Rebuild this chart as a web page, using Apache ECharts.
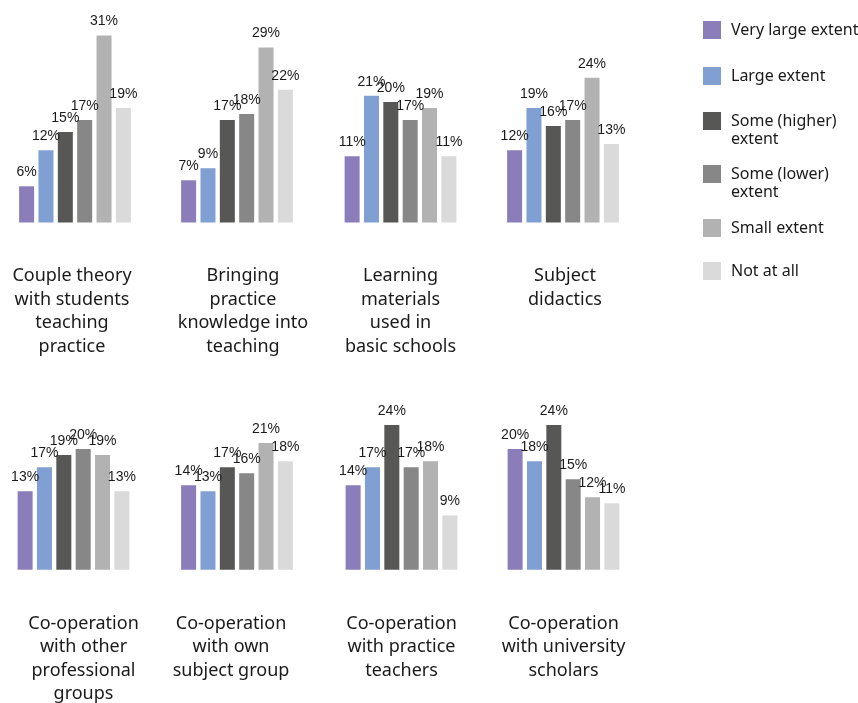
<!DOCTYPE html>
<html>
<head>
<meta charset="utf-8">
<script src="https://cdn.jsdelivr.net/npm/echarts@6/dist/echarts.min.js"></script>
<style>
  html, body { margin: 0; padding: 0; background: #fff; }
  #chart { width: 858px; height: 703px; }
</style>
</head>
<body>
<div id="chart"></div>
<script>
// Panel titles (one small bar chart each), row by row
const panelNames = [
  'Couple theory\nwith students\nteaching\npractice',
  'Bringing\npractice\nknowledge into\nteaching',
  'Learning\nmaterials\nused in\nbasic schools',
  'Subject\ndidactics',
  'Co-operation\nwith other\nprofessional\ngroups',
  'Co-operation\nwith own\nsubject group',
  'Co-operation\nwith practice\nteachers',
  'Co-operation\nwith university\nscholars'
];

// Response levels
const seriesNames = ['Very large extent', 'Large extent', 'Some (higher) extent', 'Some (lower) extent', 'Small extent', 'Not at all'];
const legendText = ['Very large extent', 'Large extent', 'Some (higher)\nextent', 'Some (lower)\nextent', 'Small extent', 'Not at all'];
const colors = ['#8a7db9', '#809fd3', '#575756', '#878787', '#b2b2b2', '#dadada'];

// Share (%) per level, in panel order
const veryLarge   = [6, 7, 11, 12, 13, 14, 14, 20];
const large       = [12, 9, 21, 19, 17, 13, 17, 18];
const someHigher  = [15, 17, 20, 16, 19, 17, 24, 24];
const someLower   = [17, 18, 17, 17, 20, 16, 17, 15];
const smallExtent = [31, 29, 19, 24, 19, 21, 18, 12];
const notAtAll    = [19, 22, 11, 13, 13, 18, 9, 11];
const levels = [veryLarge, large, someHigher, someLower, smallExtent, notAtAll];

const yMax = 32;

// Layout of the 2 x 4 panel grid
const colCenters = [[75, 237, 400.5, 563], [73.5, 237, 401.5, 563.5]];
const titleShift = [[-3, 6, 0, 2], [10, -6, 0, 0]];
const baselines = [222.5, 569.7];
const plotHeight = 193;
const plotWidth = 130;

const grid = [], xAxis = [], yAxis = [], series = [];
panelNames.forEach((name, i) => {
  const row = Math.floor(i / 4), col = i % 4;
  grid.push({
    left: colCenters[row][col] - plotWidth / 2,
    top: baselines[row] - plotHeight,
    width: plotWidth,
    height: plotHeight,
    outerBoundsMode: 'none',
    containLabel: false
  });
  xAxis.push({
    type: 'category',
    gridIndex: i,
    data: [name],
    axisLine: { show: false },
    axisTick: { show: false },
    axisLabel: {
      interval: 0,
      margin: 42,
      fontFamily: 'Noto Sans',
      fontSize: 18,
      lineHeight: 23.5,
      color: '#1a1a1a',
      align: 'center',
      padding: [0, 0, 0, titleShift[row][col] * 2]
    }
  });
  yAxis.push({
    type: 'value',
    gridIndex: i,
    min: 0,
    max: yMax,
    show: false,
    splitLine: { show: false }
  });
  levels.forEach((vals, s) => {
    series.push({
      type: 'bar',
      name: seriesNames[s],
      xAxisIndex: i,
      yAxisIndex: i,
      data: [vals[i]],
      barWidth: 15,
      barGap: '29%',
      itemStyle: { color: colors[s] },
      label: {
        show: true,
        position: 'top',
        distance: 7,
        formatter: '{c}%',
        fontFamily: 'Liberation Sans',
        fontSize: 14,
        color: '#1a1a1a'
      },
      emphasis: { disabled: true },
      animation: false
    });
  });
});

// One legend block per level so the wrapped entries keep their spacing.
// Wrapped entries use a taller item whose swatch sits in the top half,
// so the first text line lines up with the swatch.
const iconTops = [21, 67, 112, 165, 219, 262];
const tallSwatch = 'path://M0,0H18V18H0Z M0,35.9L0.01,36';
const legend = seriesNames.map((n, s) => {
  const twoLine = legendText[s].indexOf('\n') >= 0;
  return {
    left: 703,
    top: iconTops[s],
    padding: 0,
    orient: 'vertical',
    itemWidth: 18,
    itemHeight: twoLine ? 36 : 18,
    icon: twoLine ? tallSwatch : 'rect',
    selectedMode: false,
    data: [n],
    formatter: () => legendText[s],
    textStyle: {
      fontFamily: 'Noto Sans',
      fontSize: 16,
      lineHeight: 18,
      color: '#1a1a1a',
      padding: [0, 0, 0, 5]
    }
  };
});

const chart = echarts.init(document.getElementById('chart'), null, { renderer: 'canvas' });
chart.setOption({
  backgroundColor: '#ffffff',
  animation: false,
  color: colors,
  legend,
  grid,
  xAxis,
  yAxis,
  series
});
</script>
</body>
</html>
